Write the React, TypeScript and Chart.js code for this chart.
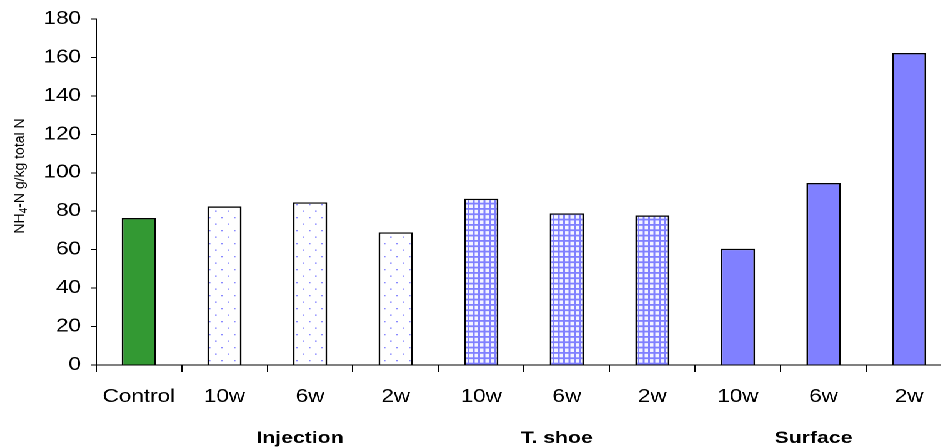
import { useEffect, useRef } from 'react';
import { Chart, registerables } from 'chart.js';

Chart.register(...registerables);

const categories = ['Control', '10w', '6w', '2w', '10w', '6w', '2w', '10w', '6w', '2w'];
const values = [76.5, 82.5, 84.6, 69, 86.5, 78.9, 77.8, 60.5, 94.7, 162.3];
const treatments = ['Control', 'Injection', 'Injection', 'Injection', 'T. shoe', 'T. shoe', 'T. shoe', 'Surface', 'Surface', 'Surface'];
const groupLabels = ['Injection', 'T. shoe', 'Surface'];
const yMin = 0;
const yMax = 180;
const yStep = 20;
const yTitleMain = 'NH';
const yTitleSub = '4';
const yTitleRest = '-N g/kg total N';

const SX = 1.25; // horizontal stretch of the whole picture
const FONT = "'Liberation Sans', Arial, sans-serif";

function hiResPattern(ctx: CanvasRenderingContext2D, c: HTMLCanvasElement, fallback: string): CanvasPattern | string {
  const p = ctx.createPattern(c, 'repeat');
  if (!p) return fallback;
  try {
    p.setTransform(new DOMMatrix([0.5, 0, 0, 0.5, 0, 0]));
  } catch (e) {
    /* ignore */
  }
  return p;
}

function makeDots(ctx: CanvasRenderingContext2D): CanvasPattern | string {
  const c = document.createElement('canvas');
  c.width = 20;
  c.height = 26;
  const g = c.getContext('2d')!;
  g.fillStyle = '#ffffff';
  g.fillRect(0, 0, 20, 26);
  g.fillStyle = '#8888ff';
  g.fillRect(4, 5, 2.6, 2.6);
  g.fillRect(14, 18, 2.6, 2.6);
  return hiResPattern(ctx, c, '#ffffff');
}

function makeGrid(ctx: CanvasRenderingContext2D): CanvasPattern | string {
  const c = document.createElement('canvas');
  c.width = 34;
  c.height = 32;
  const g = c.getContext('2d')!;
  g.fillStyle = '#f4f4ff';
  g.fillRect(0, 0, 34, 32);
  g.fillStyle = '#8080ff';
  for (let i = 0; i < 4; i++) g.fillRect(i * 8.5, 0, 3, 32);
  for (let j = 0; j < 3; j++) g.fillRect(0, j * (32 / 3), 34, 3.6);
  return hiResPattern(ctx, c, '#c0c0ff');
}

export default function App() {
  const ref = useRef<HTMLCanvasElement | null>(null);

  useEffect(() => {
    const canvas = ref.current;
    if (!canvas) return;
    const ctx = canvas.getContext('2d')!;
    const fills: Record<string, CanvasPattern | string> = {
      Control: '#339933',
      Injection: makeDots(ctx),
      'T. shoe': makeGrid(ctx),
      Surface: '#8080ff',
    };

    const decor = {
      id: 'decor',
      afterDraw(chart: any) {
        const c = chart.ctx as CanvasRenderingContext2D;
        const xs = chart.scales.x;
        const area = chart.chartArea;
        c.save();
        c.fillStyle = '#000';
        c.font = `bold 17px ${FONT}`;
        c.textAlign = 'center';
        c.textBaseline = 'alphabetic';
        groupLabels.forEach((gname) => {
          const idx = treatments.map((t, i) => (t === gname ? i : -1)).filter((i) => i >= 0);
          const mid = idx.reduce((a, b) => a + b, 0) / idx.length;
          c.fillText(gname, xs.getPixelForValue(mid) - 8, area.bottom + 78);
        });
        c.restore();

        c.save();
        c.fillStyle = '#000';
        c.translate(24 / SX, (area.top + area.bottom) / 2 - 16);
        c.scale(1 / SX, 1);
        c.rotate(-Math.PI / 2);
        c.textBaseline = 'alphabetic';
        c.textAlign = 'left';
        const big = `14px ${FONT}`;
        const small = `10px ${FONT}`;
        c.font = big;
        const w1 = c.measureText(yTitleMain).width;
        const w3 = c.measureText(yTitleRest).width;
        c.font = small;
        const w2 = c.measureText(yTitleSub).width;
        let x = -(w1 + w2 + w3) / 2;
        c.font = big;
        c.fillText(yTitleMain, x, 0);
        x += w1;
        c.font = small;
        c.fillText(yTitleSub, x, 3);
        x += w2;
        c.font = big;
        c.fillText(yTitleRest, x, 0);
        c.restore();
      },
    };

    const chart = new Chart(canvas, {
      type: 'bar',
      data: {
        labels: categories,
        datasets: [
          {
            data: values,
            backgroundColor: treatments.map((t) => fills[t]) as any,
            borderColor: '#000000',
            borderWidth: 1.4,
            borderSkipped: 'bottom',
            barPercentage: 0.4,
            categoryPercentage: 1,
          },
        ],
      },
      options: {
        animation: false,
        responsive: false,
        devicePixelRatio: 2,
        layout: { padding: { top: 19, right: 8.4, bottom: 0, left: 0 } },
        plugins: { legend: { display: false }, tooltip: { enabled: false }, title: { display: false } },
        scales: {
          x: {
            grid: { display: true, drawOnChartArea: false, drawTicks: true, tickLength: 7, color: '#000', offset: true },
            border: { display: true, color: '#000', width: 1 },
            ticks: { color: '#000', font: { family: FONT, size: 18 }, padding: 14, maxRotation: 0, autoSkip: false },
            afterFit: (s: any) => {
              s.height = 82;
            },
          },
          y: {
            min: yMin,
            max: yMax,
            grid: { display: true, drawOnChartArea: false, drawTicks: true, tickLength: 4, color: '#000' },
            border: { display: true, color: '#000', width: 1 },
            ticks: { stepSize: yStep, color: '#000', font: { family: FONT, size: 18 }, padding: 8 },
            afterFit: (s: any) => {
              s.width = 76.8;
            },
          },
        },
      },
      plugins: [decor],
    });
    return () => chart.destroy();
  }, []);

  return (
    <div
      style={{
        position: 'fixed',
        left: 0,
        top: 0,
        transform: `scaleX(${SX})`,
        transformOrigin: '0 0',
        background: '#fff',
      }}
    >
      <canvas ref={ref} width={770} height={447} />
    </div>
  );
}
